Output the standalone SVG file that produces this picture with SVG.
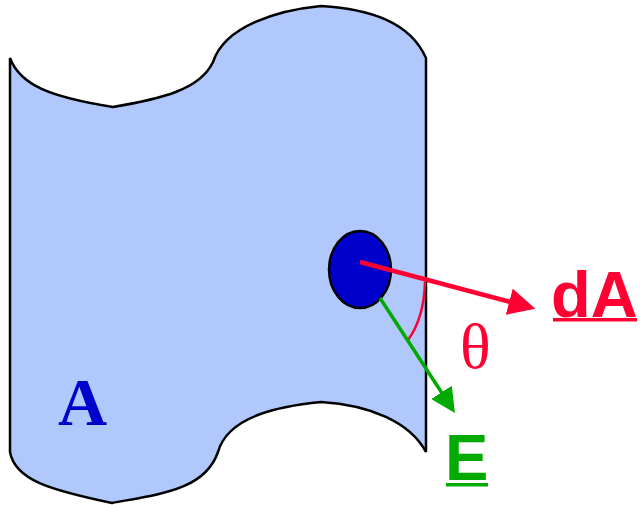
<svg xmlns="http://www.w3.org/2000/svg" width="641" height="505" viewBox="0 0 641 505">
<defs>
<marker id="ahR" markerWidth="6" markerHeight="6" refX="5" refY="3" orient="auto" markerUnits="strokeWidth"><path d="M0,0 L6,3 L0,6 Z" fill="#ff0033"/></marker>
<marker id="ahG" markerWidth="7" markerHeight="7" refX="6" refY="3.5" orient="auto" markerUnits="strokeWidth"><path d="M0,0 L7,3.5 L0,7 Z" fill="#00aa00"/></marker>
</defs>
<style>
.lbl{font-family:"Liberation Sans",Arial,sans-serif;font-weight:bold}
.ser{font-family:"Liberation Serif","Times New Roman",serif}
</style>
<g id="surface">
<path d="M10,58 C20,85 50,97 113,107 C160,99 200,90 213,62 C225,25 280,10 321,6 C370,9 410,22 426,58 V452 C410,422 370,405 321,402 C280,406 228,416 218,452 C205,490 160,494 112,503 C50,490 15,480 10,452 Z" fill="#b0c8fc" stroke="#000" stroke-width="2.5"/>
<text class="ser" x="58" y="425" font-size="68" font-weight="bold" fill="#0000cc">A</text>
</g>
<g id="patch">
<ellipse cx="360" cy="269.5" rx="31" ry="38.5" fill="#0000cc" stroke="#000" stroke-width="2.5"/>
</g>
<g id="connectors">
<path d="M425,282 Q424,318 408,340" fill="none" stroke="#ff0033" stroke-width="2.5"/>
<line x1="360" y1="262" x2="531" y2="307.5" stroke="#ff0033" stroke-width="4.5" marker-end="url(#ahR)"/>
<line x1="380" y1="298" x2="453" y2="410" stroke="#00aa00" stroke-width="3.5" marker-end="url(#ahG)"/>
</g>
<g id="labels">
<text class="lbl" x="551" y="317" font-size="65" fill="#ff0033">dA</text>
<rect x="553" y="318" width="84" height="3.5" fill="#ff0033"/>
<text class="ser" x="460" y="368" font-size="64" fill="#ff0033">θ</text>
<text class="lbl" x="445" y="480" font-size="65" fill="#00aa00">E</text>
<rect x="446" y="483" width="42" height="3.5" fill="#00aa00"/>
</g>
</svg>
